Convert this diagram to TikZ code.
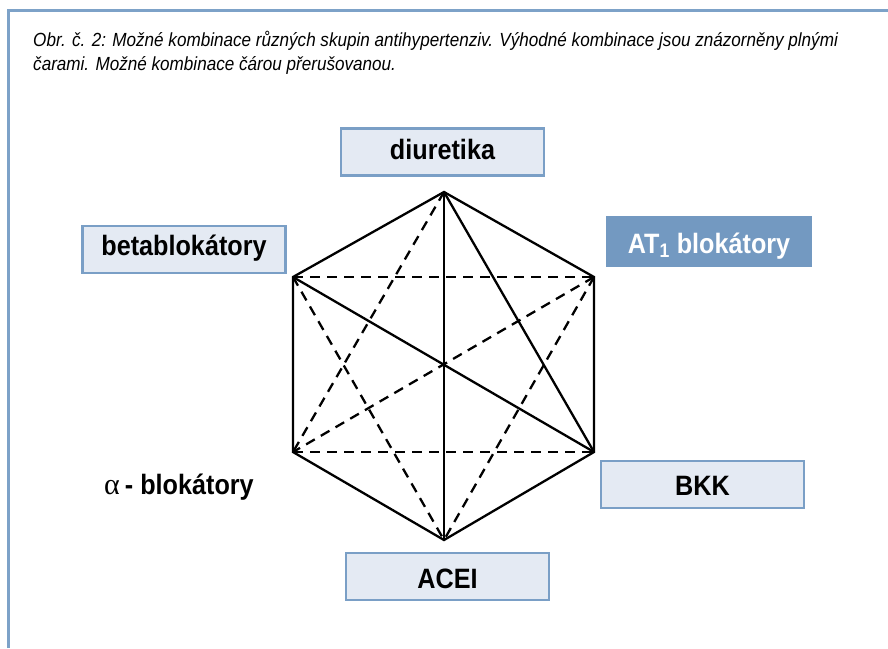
\documentclass[tikz,border=0pt]{standalone}
\usepackage{fontspec}
\setmainfont{Liberation Sans}
\newfontfamily\labelfont[FakeStretch=0.9]{Liberation Sans}
\newfontfamily\capfont[FakeStretch=0.9]{Liberation Sans}
\newfontfamily\greekfont{Liberation Serif}

\definecolor{framecol}{HTML}{7DA2C8}
\definecolor{boxedge}{HTML}{7A9FC6}
\definecolor{boxfill}{HTML}{E4EAF3}
\definecolor{atfill}{HTML}{7399C1}

\tikzset{
  drug/.style={draw=boxedge, fill=boxfill, line width=2.2pt,
    minimum width=203pt, minimum height=47pt, inner sep=0pt,
    font=\labelfont\bfseries\fontsize{28}{32}\selectfont},
  drugdark/.style={drug, draw=none, fill=atfill, text=white,
    minimum width=206pt, minimum height=51pt},
  good/.style={line width=2.3pt, line join=miter},
  fair/.style={line width=2.3pt, dash pattern=on 10pt off 7pt},
  caption/.style={anchor=base west, inner sep=0pt,
    font=\capfont\itshape\fontsize{19}{22}\selectfont}
}

\begin{document}
\begin{tikzpicture}[x=1pt,y=-1pt]
\useasboundingbox (0,0) rectangle (888,648);

% frame
\draw[framecol, line width=3pt] (8.5,648) -- (8.5,10.5) -- (888,10.5);

% caption
\node[caption] (cap1) at (33,46) {Obr. č. 2: Možné kombinace různých skupin antihypertenziv. Výhodné kombinace jsou znázorněny plnými};
\node[caption] (cap2) at (33,70) {čarami. Možné kombinace čárou přerušovanou.};

% drug groups
\node[drug, text height=21pt, text depth=6pt] (diu) at (442.5,152) {diuretika};
\node[drug, text height=18pt, text depth=6pt] (beta) at (184,249.5) {betablokátory};
\node[drugdark, text height=29pt, text depth=6pt] (at1) at (709,241.5) {AT\textsubscript{1} blokátory};
\node[drug, text height=28pt, text depth=6pt] (bkk) at (702.5,484.5) {BKK};
\node[drug, text height=29pt, text depth=6pt] (acei) at (447.5,576.5) {ACEI};
\node[inner sep=0pt, anchor=base] (alpha) at (179,494)
  {{\greekfont\fontsize{30}{32}\selectfont α}\hspace{5pt}{\labelfont\bfseries\fontsize{28}{32}\selectfont - blokátory}};

% hexagon corners
\coordinate (T)  at (444,192);
\coordinate (UL) at (293,277);
\coordinate (UR) at (594,277);
\coordinate (LL) at (293,452);
\coordinate (LR) at (594,452);
\coordinate (B)  at (444,540);

% possible combinations
\draw[fair] (UL) -- (UR);
\draw[fair] (LL) -- (LR);
\draw[fair] (T) -- (LL);
\draw[fair] (UR) -- (LL);
\draw[fair] (UL) -- (B);
\draw[fair] (UR) -- (B);

% preferred combinations
\draw[good] (T) -- (UR) -- (LR) -- (B) -- (LL) -- (UL) -- cycle;
\draw[good] (T) -- (B);
\draw[good] (T) -- (LR);
\draw[good] (UL) -- (LR);
\end{tikzpicture}
\end{document}
